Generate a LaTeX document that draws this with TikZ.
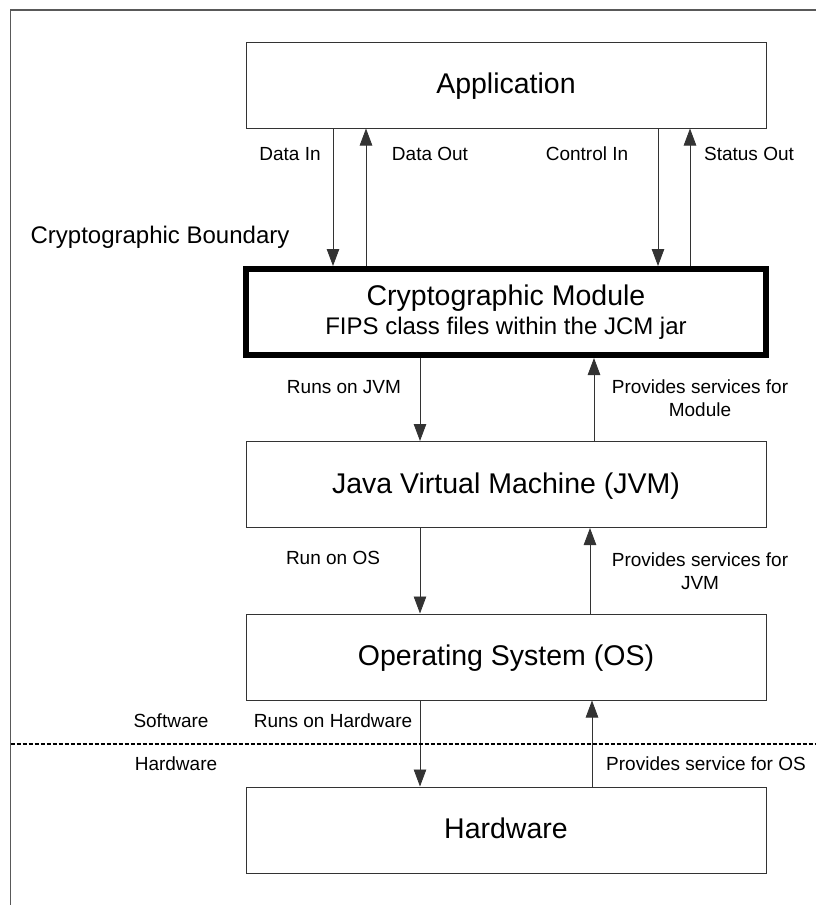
\documentclass[tikz,border=0pt]{standalone}
\usepackage{fontspec}
\setmainfont{Liberation Sans}
\usetikzlibrary{arrows.meta}
\begin{document}
\begin{tikzpicture}[x=1pt,y=-1pt,
  layerbox/.style={draw=black!80,line width=1pt,minimum width=520pt,minimum height=86pt,inner sep=0pt,
    font=\fontsize{28.5}{34}\selectfont,text height=20.5pt,text depth=3pt},
  modbox/.style={draw=black,line width=6pt,minimum width=520pt,minimum height=86pt,inner sep=0pt,align=center,
    font=\fontsize{24}{29.4}\selectfont},
  flow/.style={line width=0.8pt,draw=black!80,-{Triangle[length=17pt,width=12.5pt]}},
  lbl/.style={font=\fontsize{19}{23}\selectfont,anchor=base,inner sep=0pt},
  lbltwo/.style={font=\fontsize{19}{23}\selectfont,align=center,inner sep=0pt},
  frameline/.style={draw=black!65,line width=1.2pt},
  divider/.style={draw=black,line width=1.2pt,dash pattern=on 4pt off 2pt}]
\useasboundingbox (0,0) rectangle (816,905);
% outer frame
\coordinate (fbl) at (10.5,905);
\coordinate (ftl) at (10.5,10);
\coordinate (ftr) at (816,10);
\draw[frameline] (fbl) -- (ftl) -- (ftr);
% columns for connectors
\coordinate (xdin) at (333,0);
\coordinate (xdout) at (366,0);
\coordinate (xcin) at (658,0);
\coordinate (xsout) at (690,0);
\coordinate (xdown) at (420,0);
\coordinate (xupa) at (594,0);
\coordinate (xupb) at (590,0);
\coordinate (xupc) at (592,0);
% boxes
\node[layerbox] (app) at (506,85) {Application};
\node[modbox] (mod) at (506,312) {{\fontsize{28.5}{29.4}\selectfont Cryptographic Module}\\FIPS class files within the JCM jar};
\node[layerbox] (jvm) at (506,484.5) {Java Virtual Machine (JVM)};
\node[layerbox] (os) at (506,657) {Operating System (OS)};
\node[layerbox] (hw) at (506,830) {Hardware};
% arrows application <-> module
\draw[flow] (app.south -| xdin) -- (mod.north -| xdin);
\draw[flow] (mod.north -| xdout) -- (app.south -| xdout);
\draw[flow] (app.south -| xcin) -- (mod.north -| xcin);
\draw[flow] (mod.north -| xsout) -- (app.south -| xsout);
% module <-> jvm
\draw[flow] (mod.south -| xdown) -- (jvm.north -| xdown);
\draw[flow] (jvm.north -| xupa) -- (mod.south -| xupa);
% jvm <-> os
\draw[flow] (jvm.south -| xdown) -- (os.north -| xdown);
\draw[flow] (os.north -| xupb) -- (jvm.south -| xupb);
% os <-> hw
\draw[flow] (os.south -| xdown) -- (hw.north -| xdown);
\draw[flow] (hw.north -| xupc) -- (os.south -| xupc);
% divider
\coordinate (dl) at (10.5,744);
\coordinate (dr) at (816,744);
\draw[divider] (dl) -- (dr);
% labels
\node[lbl] (ldin) at (290,160.8) {Data In};
\node[lbl] (ldout) at (430,160.8) {Data Out};
\node[lbl] (lcin) at (587,160.8) {Control In};
\node[lbl] (lsout) at (749,160.8) {Status Out};
\node[font=\fontsize{24}{28}\selectfont,anchor=base,inner sep=0pt] (lbound) at (160,243.6) {Cryptographic Boundary};
\node[lbl] (lrjvm) at (344,393.8) {Runs on JVM};
\node[lbltwo] (lpmod) at (700,398) {Provides services for\\Module};
\node[lbl] (lros) at (333,564.8) {Run on OS};
\node[lbltwo] (lpjvm) at (700,571) {Provides services for\\JVM};
\node[lbl] (lsw) at (171,727.8) {Software};
\node[lbl] (lrhw) at (333,727.8) {Runs on Hardware};
\node[lbl] (lhwl) at (176,770.8) {Hardware};
\node[lbl] (lpos) at (706,770.8) {Provides service for OS};
\end{tikzpicture}
\end{document}
